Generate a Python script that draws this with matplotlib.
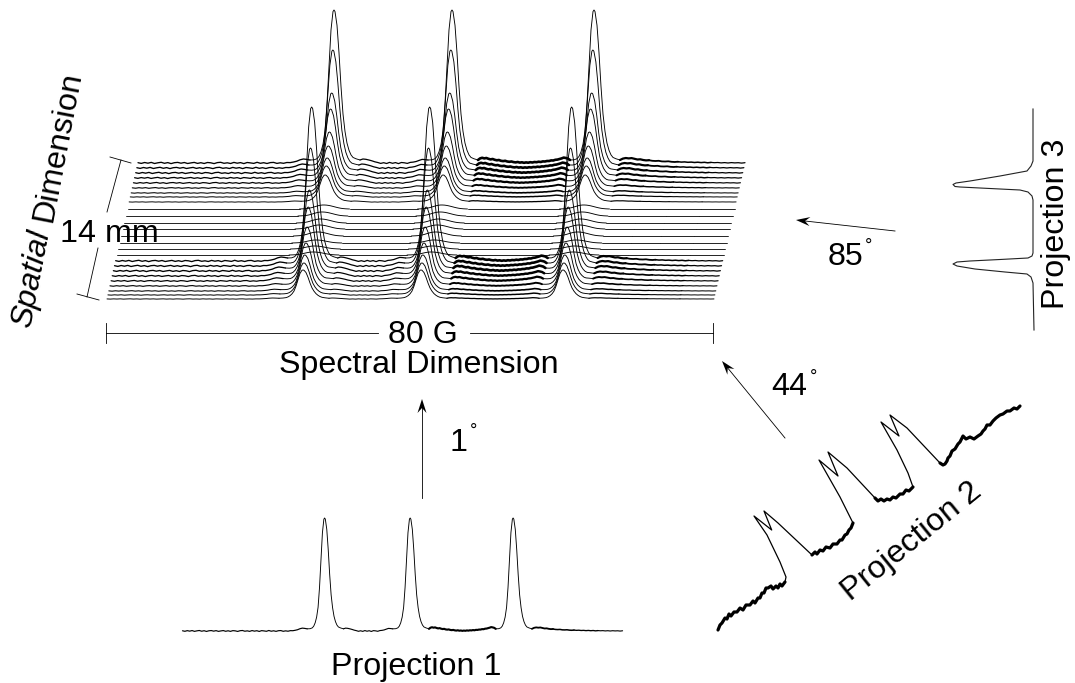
import numpy as np
import matplotlib
matplotlib.use("Agg")
import matplotlib.pyplot as plt

plt.rcParams['font.family'] = ['Liberation Sans', 'DejaVu Sans']

# stacked spectra: one row per spatial slice (rear to front)
trace_y = [163, 168, 173, 178, 183, 188, 193, 197, 202,
           209, 216, 223, 229, 236, 243, 249, 255,
           261, 266, 271, 276, 281, 286, 291, 295, 299]
trace_height = [153, 118, 80, 69, 51, 40, 32, 27, 22,
                0, 0, 0, 0, 0, 0, 0, 0,
                154, 118, 81, 69, 54, 41, 33, 28, 24]
trace_wide = [0, 0, 0, 0, 0, 2, 3, 4, 5,
              4, 4, 4, 4, 4, 3, 3, 3,
              0, 0, 0, 0, 0, 2, 3, 4, 5]
trace_noise = [1, 1, 1, .9, .8, .6, .45, .35, .25,
               0, 0, 0, 0, 0, 0, 0, 0,
               1, 1, 1, .9, .8, .6, .45, .35, .25]

# line shape around one peak
peak_pos = [196, 314, 456]
peak_dx = [-24, -20, -17, -15, -13, -11, -9, -7, -5, -3, -1, 0, 1, 3, 5, 7, 9, 11, 13, 15, 17, 19, 22, 26]
peak_shape = [0, .005, .015, .03, .06, .11, .2, .38, .63, .87, .99, 1, .99, .9, .72, .5, .32, .2, .12, .07, .04, .02, .008, 0]
peak_broad = [0, .05, .1, .17, .27, .4, .55, .7, .84, .94, 1, 1, 1, .97, .9, .8, .68, .55, .42, .3, .2, .12, .05, 0]
peak_base = [3, 2.4, 2, 2, 2, 2, 1.5, 1, 0, 0, 0, 0, 0, 0, 0, 0, 0, 1, 1.5, 2, 2, 2.5, 3, 3]

# baseline between the peaks, px above the row
seg0 = [.3, -.4, .5, -.2, .6, -.5, .2, .7, -.3, .4, -.6, .3, .6, -.2, .5, -.5, .1, .6, -.4, .3,
        -.5, .5, .2, -.6, .4, .7, -.3, .2, -.5, .6, -.2, .4, -.6, .5, .1, -.4, .7, -.3, .3, -.5,
        .4, .6, -.4, .2, -.3, .5, .4, 1, 1.8, 3.2, 4, 3.6, 3]
seg1 = [3, 4, 3.7, 3, 2.2, 1.2, .5, -.4, .3, -.5, .6, -.3, .4, -.6, .5, .2, -.4, .6, .9, 1.5, 2.6, 3.6, 3.4, 3]
seg2 = [3, 4.6, 5.2, 4.6, 5, 4.2, 3.6, 4, 3.2, 2.7, 3, 2.2, 1.9, 2.2, 1.5, 1.2, 1.5, .9, .6, 1, .4, .7, .2, .6, .3,
        .8, .5, 1, .8, 1.3, 1, 1.6, 1.5, 2, 2, 2.6, 2.5, 3.2, 3.4, 4, 4.6, 5.4, 5, 4.4, 3]
seg3 = [3, 4.4, 5, 4.6, 4.9, 4.2, 3.5, 3.7, 3, 2.6, 2.8]
seg4 = [2.8, 2.2, 2, 2.2, 1.6, 1.5, 1.7, 1.2, 1, 1.3]
seg5 = [1.3, .9, 1.1, .7, .9, .5, .8, .4, .7, .2, .6]
seg6 = [.6, .3, .5, .1, .4, 0, .4, .1, .3, -.1, .3]
seg_ranges = [(0, 172), (222, 290), (340, 432), (482, 511), (511, 540), (540, 573), (573, 607)]
seg_lw = [0.95, 0.9, 1.9, 1.6, 1.3, 1.1, 0.9]

# projection 1
proj1_x0, proj1_y0, proj1_scale, proj1_height = 182.5, 631, .725, 113

# projection 2
proj2_noisy = [
    ([718, 720, 722, 725, 727, 729, 731, 734, 737, 740, 743, 746, 750, 753, 755, 758, 760, 762, 764, 766, 768, 771, 773, 776, 778, 780, 782, 785],
     [630, 625, 623, 618, 619, 614, 616, 612, 612, 608, 610, 605, 605, 601, 603, 598, 598, 593, 593, 588, 588, 586, 589, 586, 588, 584, 586, 582]),
    ([812, 815, 817, 820, 823, 826, 830, 833, 837, 840, 842, 845, 847, 849, 851, 853],
     [555, 552, 554, 550, 551, 547, 548, 544, 544, 540, 540, 535, 534, 530, 528, 523]),
    ([875, 878, 881, 884, 887, 890, 893, 896, 900, 903, 906, 909, 913],
     [498, 501, 499, 501, 499, 500, 497, 498, 494, 494, 490, 491, 487]),
    ([940, 943, 945, 947, 948, 950, 952, 955, 958, 960, 963, 966, 970, 974, 978, 981, 983, 985, 987, 990, 993, 996, 1000, 1003, 1007, 1010, 1014, 1017, 1020],
     [463, 465, 464, 461, 458, 456, 451, 449, 444, 442, 436, 439, 437, 439, 436, 434, 431, 429, 425, 425, 421, 418, 415, 414, 411, 411, 408, 409, 406]),
]
proj2_peaks = [
    ([785, 786, 780, 767, 754, 771.7, 764, 778, 812], [582, 577, 562, 535, 516, 530, 511, 523, 555]),
    ([853, 840, 819, 838, 828, 847, 875], [523, 497, 460, 476, 452, 468, 498]),
    ([913, 908, 897, 881, 899, 890, 907, 940], [487, 473, 450, 422, 436, 415, 428, 463]),
]

# projection 3, peaks point left
proj3_x = [1033, 1033, 1031, 1027, 1000, 970, 956, 953, 955, 960, 990, 1020, 1028, 1032, 1033, 1033,
           1032, 1028, 1000, 970, 957, 953, 957, 975, 1005, 1027, 1031, 1033, 1034]
proj3_y = [109, 161, 166, 171, 176, 181, 183, 184.5, 186.5, 187, 188.5, 190, 192, 196, 200, 253,
           256, 258, 259.5, 261, 262, 264, 266, 269, 272, 274, 277, 283, 330]

fig = plt.figure(figsize=(10.75, 6.83), dpi=100)
ax = fig.add_axes([0, 0, 1, 1])
ax.set_xlim(0, 1075)
ax.set_ylim(683, 0)
ax.axis('off')


def spectrum(height, wide, noise):
    # one trace as pieces: x offsets, height above baseline, line width
    pieces = []
    segs = [seg0, seg1, seg2, seg3, seg4, seg5, seg6]
    for i, seg in enumerate(segs):
        a, b = seg_ranges[i]
        pieces.append((np.linspace(a, b, len(seg)), np.array(seg) * noise, 0.6 + (seg_lw[i] - 0.6) * noise))
        if i < 3:
            py = height * np.array(peak_shape) + wide * np.array(peak_broad) + noise * np.array(peak_base)
            pieces.append((peak_pos[i] + np.array(peak_dx), py, 0.65))
    return pieces


for y, h, w, n in zip(trace_y, trace_height, trace_wide, trace_noise):
    x0 = 107 + (299 - y) * 31 / 136
    for dx, dy, lw in spectrum(h, w, n):
        ax.plot(x0 + dx, y - dy, color='black', lw=lw, solid_capstyle='round')

for dx, dy, lw in spectrum(proj1_height, 0, 0.72):
    ax.plot(proj1_x0 + proj1_scale * dx, proj1_y0 - dy, color='black', lw=lw, solid_capstyle='round')

for px, py in proj2_noisy:
    ax.plot(px, py, color='black', lw=2.3, solid_capstyle='round')
for px, py in proj2_peaks:
    ax.plot(px, py, color='black', lw=0.9)

ax.plot(proj3_x, proj3_y, color='#222222', lw=0.8)

# scale bars
ax.plot([106, 378], [333, 333], color='black', lw=0.6)
ax.plot([470, 713], [333, 333], color='black', lw=0.6)
ax.plot([106, 106], [323, 343], color='black', lw=0.6)
ax.plot([713, 713], [323, 343], color='black', lw=0.6)
ax.plot([110, 131], [157, 163], color='black', lw=0.6)
ax.plot([121, 107], [160, 212], color='black', lw=0.6)
ax.plot([98, 87], [248, 297], color='black', lw=0.6)
ax.plot([77, 99], [294, 300], color='black', lw=0.6)

# arrows with swept back heads
arrows = [((422, 498), (422, 399)), ((785, 438), (722, 361)), ((895, 231), (796, 220))]
for start, end in arrows:
    s, e = np.array(start, float), np.array(end, float)
    u = (e - s) / np.linalg.norm(e - s)
    v = np.array([-u[1], u[0]])
    ax.plot([s[0], e[0] - 8 * u[0]], [s[1], e[1] - 8 * u[1]], color='black', lw=0.6)
    head = np.array([e, e - 14 * u + 4.5 * v, e - 9 * u, e - 14 * u - 4.5 * v])
    ax.fill(head[:, 0], head[:, 1], color='black', lw=0)

fs = 23.2
ax.text(109, 234, '14 mm', fontsize=fs, ha='center', va='center')
ax.text(423, 335, '80 G', fontsize=fs, ha='center', va='center')
ax.text(419, 365, 'Spectral Dimension', fontsize=fs, ha='center', va='center')
ax.text(416, 667, 'Projection 1', fontsize=fs, ha='center', va='center')
ax.text(1056, 224, 'Projection 3', fontsize=fs, ha='center', va='center', rotation=90)
ax.text(912, 542, 'Projection 2', fontsize=fs, ha='center', va='center', rotation=39)
ax.text(22, 327, 'Spatial', fontsize=fs, style='italic', rotation=79, ha='left', va='center', rotation_mode='anchor')
ax.text(44, 221, 'Dimension', fontsize=fs, rotation=79, ha='left', va='center', rotation_mode='anchor')

ax.text(468, 443, '1', fontsize=fs, ha='right', va='center')
ax.text(807, 387, '44', fontsize=fs, ha='right', va='center')
ax.text(863, 257, '85', fontsize=fs, ha='right', va='center')
ax.text(470, 431, '°', fontsize=13, ha='left', va='center')
ax.text(810, 377, '°', fontsize=13, ha='left', va='center')
ax.text(865, 246, '°', fontsize=13, ha='left', va='center')

fig.savefig('out.png', dpi=100)
